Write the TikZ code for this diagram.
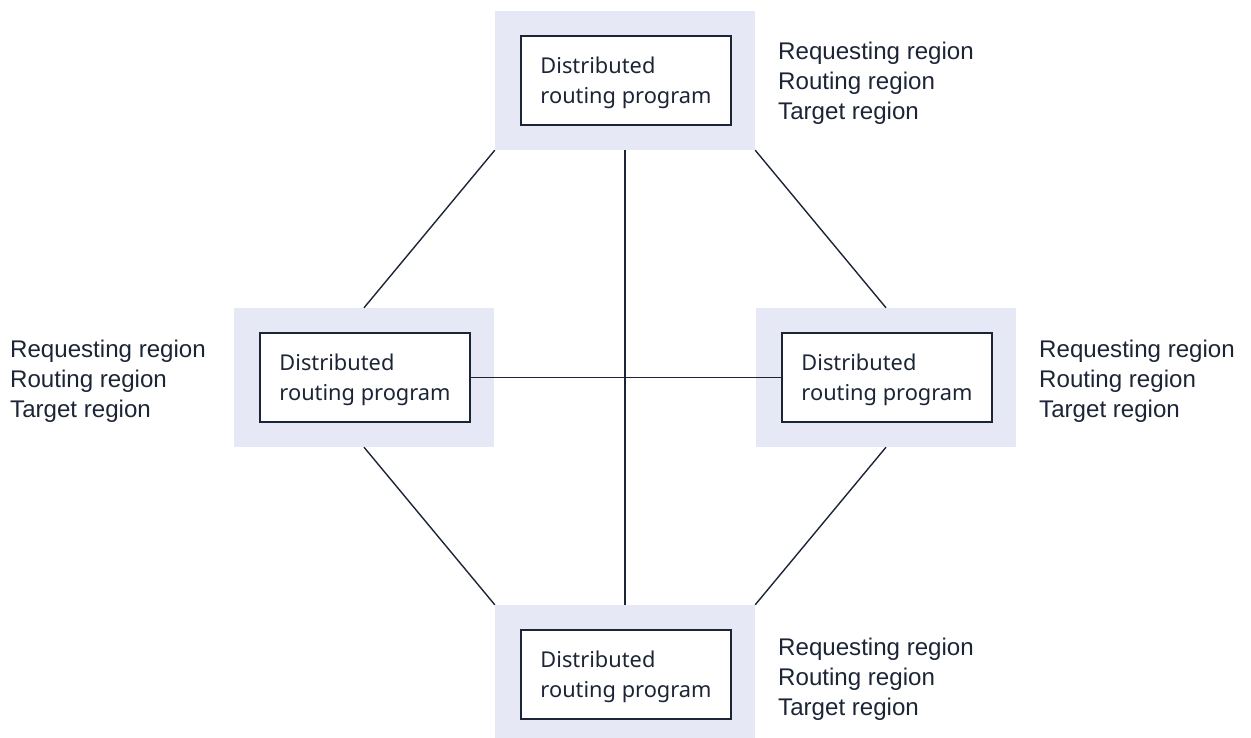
\documentclass[tikz,border=0pt]{standalone}
\usepackage{fontspec}
\setmainfont{Liberation Sans}
\newfontfamily\plexfont{Noto Sans}
\definecolor{ink}{HTML}{1C2536}
\definecolor{shade}{HTML}{E6E8F5}
\begin{document}
\begin{tikzpicture}[x=1pt,y=-1pt,
  outerbox/.style={fill=shade,draw=none,minimum width=260pt,minimum height=139pt,inner sep=0pt},
  innerbox/.style={fill=white,draw=ink,line width=1.4pt,minimum width=210pt,minimum height=89pt,inner sep=0pt,
     font=\plexfont\fontsize{21.8}{30.5}\selectfont,text=ink,align=left,text height=52pt},
  lab/.style={font=\fontsize{24.1}{30}\selectfont,text=ink,align=left,anchor=base west,inner sep=0pt},
  conn/.style={draw=ink,line width=1.4pt}]
\useasboundingbox (0,0) rectangle (1251,738);
% outer shaded boxes
\node[outerbox] (to) at (625,80.5) {};
\node[outerbox] (lo) at (364,377.5) {};
\node[outerbox] (ro) at (886,377.5) {};
\node[outerbox] (bo) at (625,674.5) {};
% connectors
\draw[conn] (to.south west) -- (lo.north);
\draw[conn] (to.south east) -- (ro.north);
\draw[conn] (lo.south) -- (bo.north west);
\draw[conn] (ro.south) -- (bo.north east);
\draw[conn] (to.south) -- (bo.north);
% inner boxes
\node[innerbox] (ti) at (626,80.5) {Distributed\\routing program};
\node[innerbox] (li) at (365,377.5) {Distributed\\routing program};
\node[innerbox] (ri) at (887,377.5) {Distributed\\routing program};
\node[innerbox] (bi) at (626,674.5) {Distributed\\routing program};
\draw[conn] (li.east) -- (ri.west);
% labels
\node[lab] (tl) at (778,120) {Requesting region\\Routing region\\Target region};
\node[lab] (ll) at (10,417) {Requesting region\\Routing region\\Target region};
\node[lab] (rl) at (1039,417) {Requesting region\\Routing region\\Target region};
\node[lab] (bl) at (778,715) {Requesting region\\Routing region\\Target region};
\end{tikzpicture}
\end{document}
